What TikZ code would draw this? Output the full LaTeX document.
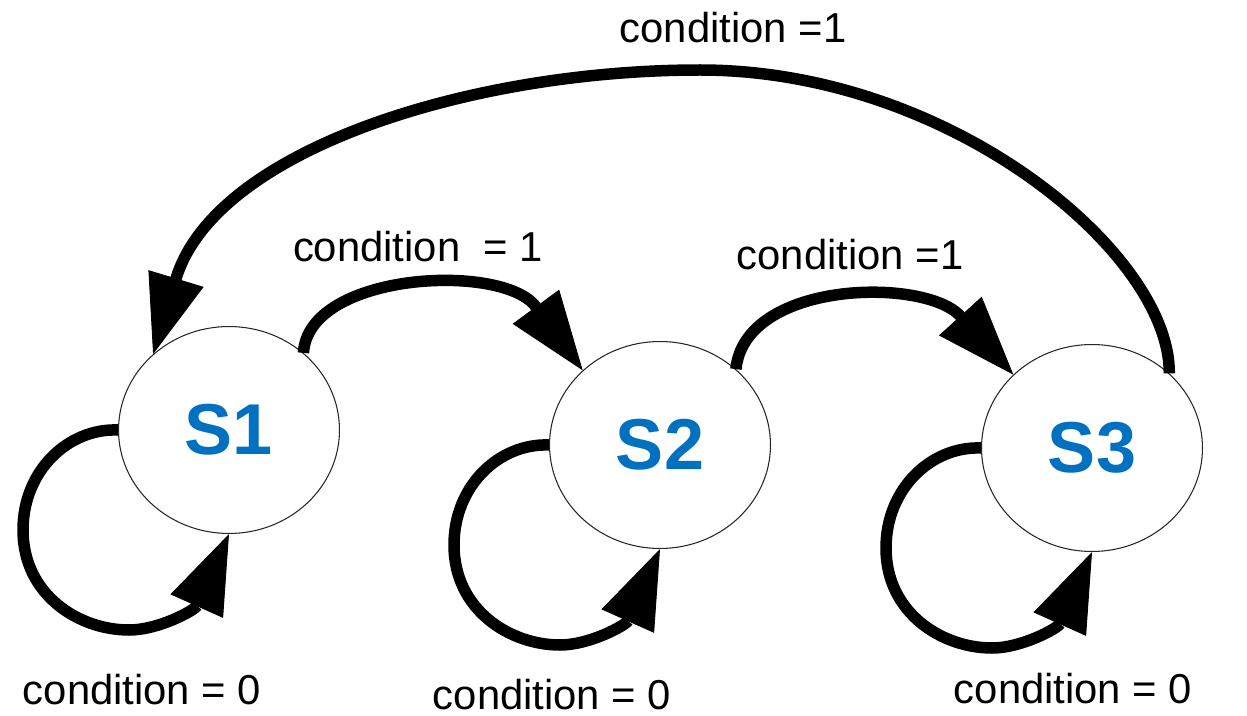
\documentclass[tikz,border=0pt]{standalone}
\usepackage{fontspec}
\setmainfont{Liberation Sans}
\usetikzlibrary{arrows.meta,shapes.geometric,calc}
\definecolor{stateblue}{RGB}{0,112,192}
\begin{document}
\begin{tikzpicture}[x=0.02cm,y=-0.02cm,
  state/.style={ellipse,draw=black!85,line width=0.6pt,fill=white,
    minimum width=4.42cm,minimum height=4.14cm,inner sep=0pt,
    font=\fontsize{41pt}{45pt}\selectfont\bfseries,text=stateblue},
  edge/.style={line width=0.23cm,
    -{Triangle[length=1.58cm,width=1.15cm,line width=0.5pt]}},
  lbl/.style={anchor=base,inner sep=0pt,font=\fontsize{23.8pt}{28pt}\selectfont}]
\useasboundingbox (0,0) rectangle (1247,716);

\node[state] (S1) at (229,430) {S1};
\node[state] (S2) at (660,445) {S2};
\node[state] (S3) at (1092,448) {S3};

% forward transitions
\draw[edge] (S1.46) .. controls (308,272) and (503,262) .. (S2.136);
\draw[edge] (S2.45) .. controls (745,280) and (925,277) .. (S3.137);

% back transition S3 -> S1
\draw[edge] (S3.44) .. controls (1170,253) and (950,70) .. (700,70)
  .. controls (470,70) and (215,150) .. (S1.135);

% self loops
\foreach \n in {S1,S2,S3}{
  \draw[edge] (\n.180) .. controls ($(\n)+(-160,-2)$) and ($(\n)+(-206,40)$)
    .. ($(\n)+(-206,100)$) .. controls ($(\n)+(-206,165)$) and ($(\n)+(-150,200)$)
    .. ($(\n)+(-100,200)$) .. controls ($(\n)+(-70,200)$) and ($(\n)+(-34,180)$)
    .. (\n.270);
}

% labels
\node[lbl] (l13) at (733,43) {condition =1};
\node[lbl] (l12) at (418,261) {condition\ \ = 1};
\node[lbl] (l23) at (850,270) {condition =1};
\node[lbl] (l11) at (142,704) {condition = 0};
\node[lbl] (l22) at (552,709) {condition = 0};
\node[lbl] (l33) at (1073,703) {condition = 0};
\end{tikzpicture}
\end{document}
